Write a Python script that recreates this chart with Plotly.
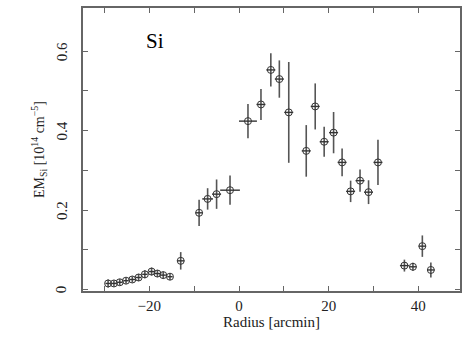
import plotly.graph_objects as go

radius = [-29.2, -27.9, -26.6, -25.2, -23.8, -22.4, -21.0, -19.5, -18.2, -16.9, -15.4, -13.0,
          -8.9, -7.0, -5.0, -2.0, 2.0, 4.9, 7.1, 9.0, 11.1, 15.0, 17.0, 19.0, 21.1, 23.0,
          24.9, 27.0, 28.9, 31.0, 36.9, 38.8, 40.9, 42.8]
radius_err = [0.6] * 11 + [0.8,
              0.8, 1.2, 1.0, 2.2, 2.0, 1.0, 1.0, 1.0, 1.0, 1.0, 1.0, 1.0, 1.0, 1.0,
              1.0, 1.0, 1.0, 1.0, 1.0, 0.8, 0.8, 0.8]
em_si = [0.015, 0.015, 0.018, 0.022, 0.025, 0.030, 0.038, 0.045, 0.040, 0.036, 0.032, 0.072,
         0.193, 0.228, 0.240, 0.250, 0.424, 0.466, 0.553, 0.530, 0.446, 0.349, 0.461, 0.372,
         0.395, 0.320, 0.247, 0.274, 0.245, 0.320, 0.060, 0.057, 0.109, 0.049]
em_err = [0.010, 0.008, 0.008, 0.008, 0.008, 0.009, 0.010, 0.010, 0.009, 0.009, 0.008, 0.022,
          0.033, 0.027, 0.037, 0.037, 0.043, 0.039, 0.042, 0.047, 0.127, 0.065, 0.058, 0.038,
          0.052, 0.035, 0.027, 0.028, 0.030, 0.057, 0.015, 0.010, 0.027, 0.019]

x_ticks = [-30, -20, -10, 0, 10, 20, 30, 40]
x_tick_text = ["", "−20", "", "0", "", "20", "", "40"]
y_ticks = [0, 0.1, 0.2, 0.3, 0.4, 0.5, 0.6]
y_tick_text = ["0", "", "0.2", "", "0.4", "", "0.6"]

serif = "Liberation Serif"
line_col = "#666666"
txt_col = "#222222"

fig = go.Figure()
fig.add_trace(go.Scatter(
    x=radius, y=em_si, mode="markers",
    marker=dict(symbol="circle-open", size=7, color="#333333", line=dict(width=1, color="#333333")),
    error_x=dict(type="data", array=radius_err, visible=True, color="#333333", thickness=1.4, width=0),
    error_y=dict(type="data", array=em_err, visible=True, color="#555555", thickness=1.6, width=0),
    showlegend=False,
))

fig.add_annotation(x=0.19, y=0.885, xref="paper", yref="paper", text="Si", showarrow=False,
                   font=dict(family=serif, size=21, color="black"), xanchor="center", yanchor="middle")

# rotated y tick labels
for v, t in zip(y_ticks, y_tick_text):
    if t:
        fig.add_annotation(x=-0.056, y=v, xref="paper", yref="y", text=t, showarrow=False,
                           textangle=-90, font=dict(family=serif, size=15, color=txt_col),
                           xanchor="center", yanchor="middle")

# y axis title
fig.add_annotation(x=-0.118, y=0.5, xref="paper", yref="paper",
                   text="EM<sub>Si</sub> [10<sup>14</sup> cm<sup>−5</sup>]", showarrow=False,
                   textangle=-90, font=dict(family=serif, size=14, color=txt_col),
                   xanchor="center", yanchor="middle")

fig.update_layout(
    width=469, height=339,
    margin=dict(l=83, r=9, t=6, b=48),
    paper_bgcolor="white", plot_bgcolor="white",
    font=dict(family=serif, color=txt_col, size=15),
    xaxis=dict(range=[-34.8, 49.3], tickmode="array", tickvals=x_ticks, ticktext=x_tick_text,
               ticks="inside", ticklen=5, tickcolor=line_col,
               tickwidth=1.3, showline=True, linecolor=line_col, linewidth=1.6, mirror="ticks",
               showgrid=False, zeroline=False, tickfont=dict(family=serif, size=15, color=txt_col),
               title=dict(text="Radius [arcmin]", font=dict(family=serif, size=15, color=txt_col), standoff=4)),
    yaxis=dict(range=[-0.004, 0.709], tickmode="array", tickvals=y_ticks, showticklabels=False,
               ticks="inside", ticklen=5, tickcolor=line_col, tickwidth=1.3,
               showline=True, linecolor=line_col, linewidth=1.6, mirror="ticks",
               showgrid=False, zeroline=False),
)

fig.write_html("out.html")
